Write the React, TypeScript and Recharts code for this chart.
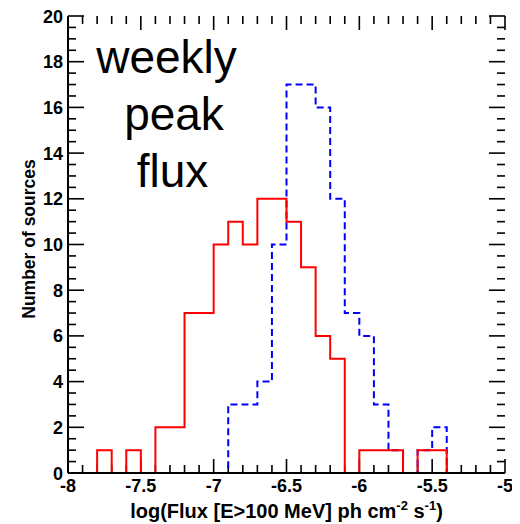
import React from "react";
import { LineChart, Line, XAxis, YAxis, ReferenceLine } from "recharts";

// Bin lower edges (log flux), last entry closes the histogram at -5
const binEdges = [
  -8.0, -7.9, -7.8, -7.7, -7.6, -7.5, -7.4, -7.3, -7.2, -7.1,
  -7.0, -6.9, -6.8, -6.7, -6.6, -6.5, -6.4, -6.3, -6.2, -6.1,
  -6.0, -5.9, -5.8, -5.7, -5.6, -5.5, -5.4, -5.3, -5.2, -5.1, -5.0,
];
// weekly peak flux (red, solid)
const redCounts = [
  0, 0, 1, 0, 1, 0, 2, 2, 7, 7,
  10, 11, 10, 12, 12, 11, 9, 6, 5, 0,
  1, 1, 1, 0, 1, 1, 0, 0, 0, 0, 0,
];
// blue, dashed
const blueCounts = [
  0, 0, 0, 0, 0, 0, 0, 0, 0, 0,
  0, 3, 3, 4, 10, 17, 17, 16, 12, 7,
  6, 3, 1, 0, 1, 2, 0, 0, 0, 0, 0,
];
const xTicks = binEdges;
const yTicks = [
  0, 0.5, 1, 1.5, 2, 2.5, 3, 3.5, 4, 4.5, 5, 5.5, 6, 6.5, 7, 7.5, 8, 8.5, 9, 9.5,
  10, 10.5, 11, 11.5, 12, 12.5, 13, 13.5, 14, 14.5, 15, 15.5, 16, 16.5, 17, 17.5,
  18, 18.5, 19, 19.5, 20,
];
const annotationLines = ["weekly", "peak", "flux"];

const data = binEdges.map((x, i) => ({ x, red: redCounts[i], blue: blueCounts[i] }));

const FONT = "'Liberation Sans', Arial, Helvetica, sans-serif";
const isXMajor = (v: number) => Math.abs(v * 2 - Math.round(v * 2)) < 1e-6;
const isYMajor = (v: number) => Math.abs(v / 2 - Math.round(v / 2)) < 1e-6;
const fmt = (v: number) => String(Math.round(v * 10) / 10);

// tick mark lengths, in axis units (plot: 437px for 3 units in x, 457px for 20 units in y)
const X_MAJOR_LEN = 14 / (457 / 20);
const X_MINOR_LEN = 8 / (457 / 20);
const Y_MAJOR_LEN = 16 / (437 / 3);
const Y_MINOR_LEN = 8 / (437 / 3);

const renderBottomTick = (props: any) => {
  const x = Number(props.x);
  const y = Number(props.y);
  const v = props.payload.value;
  if (!isXMajor(v)) return <g />;
  return (
    <text x={x} y={y + 19} textAnchor="middle" fontFamily={FONT} fontWeight="bold" fontSize={18} fill="#000">
      {fmt(v)}
    </text>
  );
};
const renderLeftTick = (props: any) => {
  const x = Number(props.x);
  const y = Number(props.y);
  const v = props.payload.value;
  if (!isYMajor(v)) return <g />;
  return (
    <text x={x - 5} y={y + 6.5} textAnchor="end" fontFamily={FONT} fontWeight="bold" fontSize={18} fill="#000">
      {fmt(v)}
    </text>
  );
};

export default function App() {
  const axisLine = { stroke: "#000", strokeWidth: 2 };
  const tickMarks: React.ReactNode[] = [];
  xTicks.forEach((v, i) => {
    const len = isXMajor(v) ? X_MAJOR_LEN : X_MINOR_LEN;
    tickMarks.push(
      <ReferenceLine
        key={`xb${i}`}
        xAxisId="b"
        yAxisId="l"
        segment={[{ x: v, y: len }, { x: v, y: 0 }]}
        stroke="#000"
        strokeWidth={1.6}
        ifOverflow="visible"
      />,
      <ReferenceLine
        key={`xt${i}`}
        xAxisId="b"
        yAxisId="l"
        segment={[{ x: v, y: 20 }, { x: v, y: 20 - len }]}
        stroke="#000"
        strokeWidth={1.6}
        ifOverflow="visible"
      />
    );
  });
  yTicks.forEach((v, i) => {
    const len = isYMajor(v) ? Y_MAJOR_LEN : Y_MINOR_LEN;
    tickMarks.push(
      <ReferenceLine
        key={`yl${i}`}
        xAxisId="b"
        yAxisId="l"
        segment={[{ x: -8 + len, y: v }, { x: -8, y: v }]}
        stroke="#000"
        strokeWidth={1.6}
        ifOverflow="visible"
      />,
      <ReferenceLine
        key={`yr${i}`}
        xAxisId="b"
        yAxisId="l"
        segment={[{ x: -5, y: v }, { x: -5 - len, y: v }]}
        stroke="#000"
        strokeWidth={1.6}
        ifOverflow="visible"
      />
    );
  });

  return (
    <div style={{ position: "relative", width: 512, height: 516 }}>
      <LineChart width={512} height={516} data={data} margin={{ top: 8, right: 15, bottom: 0, left: 0 }}>
        <XAxis
          xAxisId="b"
          dataKey="x"
          type="number"
          domain={[-8, -5]}
          allowDataOverflow
          ticks={xTicks}
          interval={0}
          tickSize={0}
          tickMargin={0}
          tickLine={false}
          axisLine={axisLine}
          height={51}
          tick={renderBottomTick}
          orientation="bottom"
        />
        <XAxis
          xAxisId="t"
          dataKey="x"
          type="number"
          domain={[-8, -5]}
          allowDataOverflow
          tick={false}
          tickLine={false}
          axisLine={axisLine}
          height={0}
          orientation="top"
        />
        <YAxis
          yAxisId="l"
          type="number"
          domain={[0, 20]}
          allowDataOverflow
          ticks={yTicks}
          interval={0}
          tickSize={0}
          tickMargin={0}
          tickLine={false}
          axisLine={axisLine}
          width={60}
          tick={renderLeftTick}
          orientation="left"
        />
        <YAxis
          yAxisId="r"
          type="number"
          domain={[0, 20]}
          allowDataOverflow
          tick={false}
          tickLine={false}
          axisLine={axisLine}
          width={0}
          orientation="right"
        />
        {tickMarks}
        <Line
          xAxisId="b"
          yAxisId="l"
          type="stepAfter"
          dataKey="blue"
          stroke="#0000ff"
          strokeWidth={2}
          strokeDasharray="7 4"
          dot={false}
          isAnimationActive={false}
        />
        <Line
          xAxisId="b"
          yAxisId="l"
          type="stepAfter"
          dataKey="red"
          stroke="#ff0000"
          strokeWidth={2}
          dot={false}
          isAnimationActive={false}
        />
      </LineChart>
      <svg
        width={512}
        height={516}
        style={{ position: "absolute", left: 0, top: 0, pointerEvents: "none" }}
      >
        <text
          x={278.5}
          y={510}
          textAnchor="middle"
          fontFamily={FONT}
          fontWeight="bold"
          fontSize={20}
          fill="#000"
        >
          log(Flux [E&gt;100 MeV] ph cm
          <tspan dy={-8} fontSize={13}>-2</tspan>
          <tspan dy={8}> s</tspan>
          <tspan dy={-8} fontSize={13}>-1</tspan>
          <tspan dy={8}>)</tspan>
        </text>
        <text
          x={27}
          y={231}
          textAnchor="middle"
          transform="rotate(-90 27 231)"
          fontFamily={FONT}
          fontWeight="bold"
          fontSize={17.5}
          fill="#000"
        >
          Number of sources
        </text>
        <text x={158.5} y={65} textAnchor="middle" fontFamily={FONT} fontSize={46} fill="#000">
          {annotationLines[0]}
        </text>
        <text x={166} y={122} textAnchor="middle" fontFamily={FONT} fontSize={46} fill="#000">
          {annotationLines[1]}
        </text>
        <text x={164.5} y={179} textAnchor="middle" fontFamily={FONT} fontSize={46} fill="#000">
          {annotationLines[2]}
        </text>
      </svg>
    </div>
  );
}
